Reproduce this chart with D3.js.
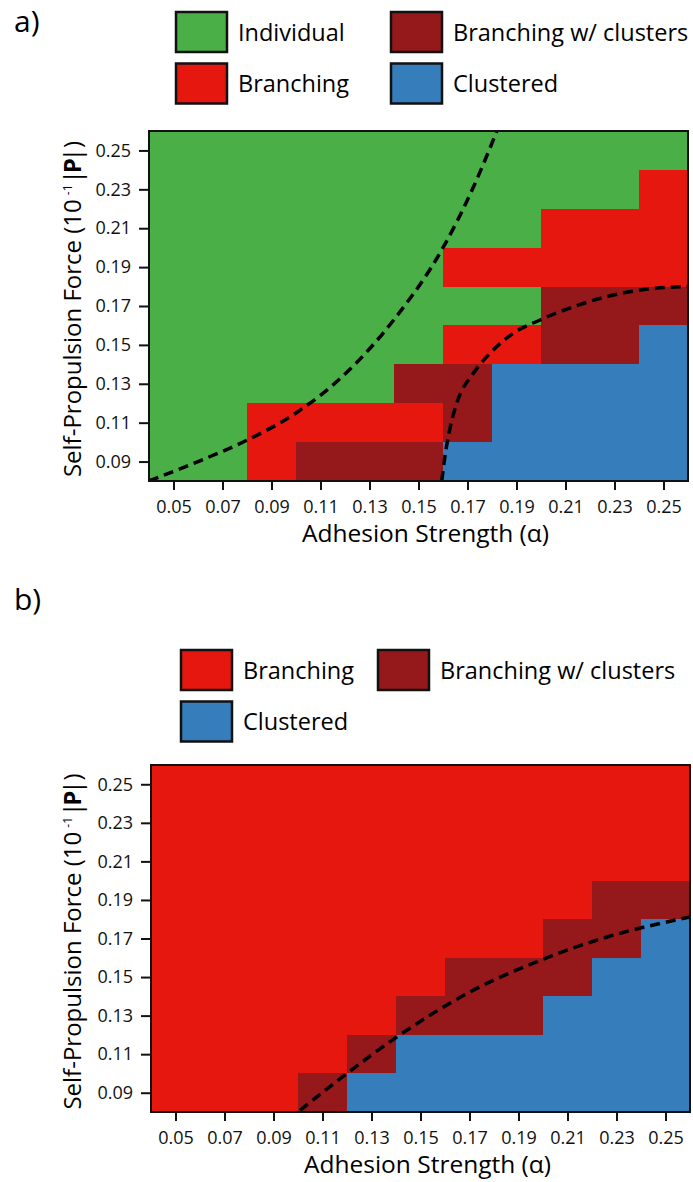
<!DOCTYPE html>
<html>
<head>
<meta charset="utf-8">
<script src="https://cdn.jsdelivr.net/npm/d3@7"></script>
<style>
  body { margin: 0; background: #fff; }
  svg { display: block; font-family: 'Open Sans', sans-serif; }
</style>
</head>
<body>
<script>
// axis tick values (cell centres)
const alphaTicks = [0.05, 0.07, 0.09, 0.11, 0.13, 0.15, 0.17, 0.19, 0.21, 0.23, 0.25];
const forceTicks = [0.09, 0.11, 0.13, 0.15, 0.17, 0.19, 0.21, 0.23, 0.25];

// phase categories
const phaseCodes = ['I', 'B', 'W', 'C'];
const phaseNames = ['Individual', 'Branching', 'Branching w/ clusters', 'Clustered'];

// panel a: one row per force value, top (0.25) to bottom (0.09), one code per alpha column
const phasesA = [
    'I I I I I I I I I I I',
    'I I I I I I I I I I B',
    'I I I I I I I I B B B',
    'I I I I I I B B B B B',
    'I I I I I I I I W W W',
    'I I I I I I B B W W C',
    'I I I I I W W C C C C',
    'I I B B B B W C C C C',
    'I I B W W W C C C C C'
];

// panel b, same layout
const phasesB = [
    'B B B B B B B B B B B',
    'B B B B B B B B B B B',
    'B B B B B B B B B B B',
    'B B B B B B B B B W W',
    'B B B B B B B B W W C',
    'B B B B B B W W W C C',
    'B B B B B W W W C C C',
    'B B B B W C C C C C C',
    'B B B W C C C C C C C'
];

// dashed boundaries [alpha, force]
const boundaryA1 = [[0.040, 0.080], [0.060, 0.090], [0.080, 0.101], [0.100, 0.115], [0.120, 0.135],
    [0.140, 0.163], [0.160, 0.200], [0.172, 0.230], [0.182, 0.260]];
const boundaryA2 = [[0.1595, 0.080], [0.1605, 0.090], [0.163, 0.108], [0.1656, 0.120], [0.1724, 0.1354],
    [0.1792, 0.1457], [0.1887, 0.156], [0.1996, 0.1628], [0.2132, 0.1696], [0.2268, 0.1748],
    [0.2404, 0.1782], [0.260, 0.180]];
const boundaryB = [[0.1008, 0.0808], [0.1172, 0.0973], [0.1403, 0.1189], [0.1716, 0.1432],
    [0.1989, 0.1587], [0.2262, 0.1708], [0.2602, 0.1812]];

// legend entries, column by column
const legendA = [['I', 'B'], ['W', 'C']];
const legendB = [['B', 'C'], ['W']];

const colors = { I: '#4aaf46', B: '#e5170e', W: '#95181a', C: '#357ebb' };

let width = 693, height = 1182;
let svg = d3.select('body').append('svg').attr('width', width).attr('height', height);

function drawPanel(p, idx) {
    let g = svg.append('g');

    let x = d3.scaleLinear().domain([0.04, 0.26]).range([p.left, p.right]);
    let y = d3.scaleLinear().domain([0.08, 0.26]).range([p.bottom, p.top]);

    // panel letter
    g.append('text')
        .attr('x', 14).attr('y', p.labelY)
        .style('font-size', '30px')
        .text(p.label);

    // legend
    p.legend.forEach(function(col, ci) {
        col.forEach(function(code, ri) {
            let lx = p.legendX[ci], ly = p.legendY + ri * 51.5;
            g.append('rect')
                .attr('x', lx).attr('y', ly)
                .attr('width', 51).attr('height', 40)
                .attr('fill', colors[code])
                .attr('stroke', '#111').attr('stroke-width', 2.5);
            g.append('text')
                .attr('x', lx + 62).attr('y', ly + 28.5)
                .style('font-size', '23.5px')
                .text(phaseNames[phaseCodes.indexOf(code)]);
        });
    });

    // cells
    let cells = [];
    p.grid.forEach(function(row, r) {
        let force = forceTicks[forceTicks.length - 1 - r];
        row.split(' ').forEach(function(code, c) {
            cells.push({ alpha: alphaTicks[c], force: force, code: code });
        });
    });

    g.selectAll('rect.cell')
        .data(cells)
        .enter().append('rect')
        .attr('class', 'cell')
        .attr('x', function(d) { return Math.round(x(d.alpha - 0.01)); })
        .attr('y', function(d) { return Math.round(y(d.force + 0.01)); })
        .attr('width', function(d) { return Math.round(x(d.alpha + 0.01)) - Math.round(x(d.alpha - 0.01)) + 1; })
        .attr('height', function(d) { return Math.round(y(d.force - 0.01)) - Math.round(y(d.force + 0.01)) + 1; })
        .attr('shape-rendering', 'crispEdges')
        .attr('fill', function(d) { return colors[d.code]; });

    // dashed boundaries, clipped to the plot
    let clipId = 'clip' + idx;
    svg.append('clipPath').attr('id', clipId)
        .append('rect')
        .attr('x', p.left).attr('y', p.top)
        .attr('width', p.right - p.left).attr('height', p.bottom - p.top);

    let line = d3.line()
        .x(function(d) { return x(d[0]); })
        .y(function(d) { return y(d[1]); })
        .curve(d3.curveMonotoneX);

    p.curves.forEach(function(pts) {
        g.append('path')
            .attr('d', line(pts))
            .attr('clip-path', 'url(#' + clipId + ')')
            .attr('fill', 'none')
            .attr('stroke', '#000')
            .attr('stroke-width', 3.5)
            .attr('stroke-dasharray', '10,6');
    });

    // frame
    g.append('rect')
        .attr('x', p.left).attr('y', p.top)
        .attr('width', p.right - p.left).attr('height', p.bottom - p.top)
        .attr('fill', 'none').attr('stroke', '#111').attr('stroke-width', 2);

    // axes
    let xAxis = g.append('g')
        .attr('transform', 'translate(0,' + p.bottom + ')')
        .call(d3.axisBottom(x).tickValues(alphaTicks).tickFormat(d3.format('.2f'))
            .tickSize(9).tickPadding(10).tickSizeOuter(0));
    let yAxis = g.append('g')
        .attr('transform', 'translate(' + p.left + ',0)')
        .call(d3.axisLeft(y).tickValues(forceTicks).tickFormat(d3.format('.2f'))
            .tickSize(10).tickPadding(8).tickSizeOuter(0));

    [xAxis, yAxis].forEach(function(a) {
        a.select('.domain').remove();
        a.selectAll('line').attr('stroke', '#111').attr('stroke-width', 2);
        a.selectAll('text')
            .attr('fill', '#111')
            .style('font-family', "'Open Sans', sans-serif")
            .style('font-size', '18px');
    });

    // axis titles
    g.append('text')
        .attr('x', (p.left + p.right) / 2 + 7).attr('y', p.bottom + 61)
        .attr('text-anchor', 'middle')
        .style('font-size', '24.5px')
        .text('Adhesion Strength (α)');

    let yt = g.append('text')
        .attr('transform', 'translate(81,' + ((p.top + p.bottom) / 2 + 3) + ') rotate(-90)')
        .attr('text-anchor', 'middle')
        .style('font-size', '24px');
    yt.append('tspan').text('Self-Propulsion Force (10');
    yt.append('tspan').attr('dx', 4).attr('dy', -9).style('font-size', '12px').text('-1');
    yt.append('tspan').attr('dx', 1).attr('dy', 9).text('|');
    yt.append('tspan').attr('dx', -3).style('font-weight', 'bold').text('P');
    yt.append('tspan').attr('dx', -3).text('|)');
}

let panels = [
    { label: 'a)', labelY: 32, left: 149, right: 688, top: 131, bottom: 481,
      grid: phasesA, curves: [boundaryA1, boundaryA2],
      legend: legendA, legendX: [176, 391], legendY: 12 },
    { label: 'b)', labelY: 610, left: 151, right: 690, top: 765, bottom: 1112,
      grid: phasesB, curves: [boundaryB],
      legend: legendB, legendX: [181, 378], legendY: 650 }
];

panels.forEach(drawPanel);
</script>
</body>
</html>
